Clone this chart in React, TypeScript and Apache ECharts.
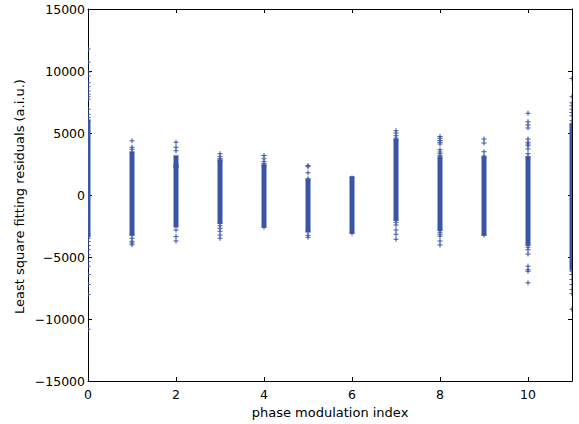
import React, { useEffect, useRef } from "react";
import * as echarts from "echarts";

// Dense bands of residuals per column: [column, low, high]
const bandColumns = [0, 1, 2, 2, 3, 4, 5, 6, 7, 8, 9, 10, 11];
const bandLows = [-3200, -3080, -2420, 2380, -2120, -2420, -2820, -2920, -1880, -2680, -3080, -3880, -5880];
const bandHighs = [5900, 3300, 2280, 3000, 2680, 2280, 1080, 1320, 4300, 2920, 2920, 2920, 5590];

// Individual (sparse) residual points per column
const points0 = [11770, 10730, 9930, 9590, 9050, 8730, 8390, 8120, 7930, 7720, 6920, 6520, 6250, 5990,
  -3210, -3480, -3750, -4070, -4410, -4810, -5350, -5750, -6410, -7210, -8010, -10810];
const points1 = [4380, 3860, 3700, 3480, -3200, -3480, -3720, -3860, -4000];
const points2 = [4260, 3860, 3580, -2820, -3340, -3700];
const points3 = [3320, 3080, 2920, 2760, -2280, -2480, -2680, -2920, -3220, -3480];
const points4 = [3190, 2920, 2680, 2520, 2360, -2600];
const points5 = [2390, 2280, 1800, 1320, 1200, -2920, -3240, -3400];
const points6 = [1370, -3080];
const points7 = [5190, 5000, 4780, 4580, 4450, -2010, -2200, -2420, -2820, -3160, -3560];
const points8 = [4730, 4570, 4400, 4250, 4120, 3660, 3480, 3320, 3160, -2840, -3000, -3160, -3320, -3700, -4020];
const points9 = [4520, 4200, 3500, 3140, 3000, -3220];
const points10 = [6600, 5900, 5640, 5400, 4520, 4260, 4120, 3980, 3720, 3320, 3060,
  -4020, -4200, -4420, -4760, -5740, -6020, -6140, -7080];
const points11 = [9400, 7930, 7450, 7190, 6920, 6650, 6390, 5990, 5720,
  -6150, -6410, -6810, -7210, -7610, -7960, -9210];

const pointColumns = [points0, points1, points2, points3, points4, points5, points6, points7, points8, points9, points10, points11];

const xTitle = "phase modulation index";
const yTitle = "Least square fitting residuals (a.i.u.)";

const COLOR = "#3a54a6";
const FONT = "DejaVu Sans";
const PLUS = "path://M4,0h2v4h4v2h-4v4h-2v-4h-4v-2h4z";
const PLUS_RIGHT_HALF = "path://M0,0h1v4h4v2h-4v4h-1z";
const PLUS_LEFT_HALF = "path://M4,0h1v10h-1v-4h-4v-2h4z";

export default function App() {
  const ref = useRef<HTMLDivElement>(null);
  useEffect(() => {
    document.body.style.margin = "0";
    const chart = echarts.init(ref.current!, null, { renderer: "svg" });
    const bandData = bandColumns.map((c, i) => [c, bandLows[i], bandHighs[i]]);
    const lastCol = pointColumns.length - 1;
    const scatterData: any[] = [];
    pointColumns.forEach((arr, c) =>
      arr.forEach((v) => {
        if (c === 0) {
          scatterData.push({ value: [c, v], symbol: PLUS_RIGHT_HALF, symbolSize: [2.5, 5], symbolOffset: [1.25, 0] });
        } else if (c === lastCol) {
          scatterData.push({ value: [c, v], symbol: PLUS_LEFT_HALF, symbolSize: [2.5, 5], symbolOffset: [-1.25, 0] });
        } else {
          scatterData.push({ value: [c, v] });
        }
      })
    );
    const fmt = (v: number) => String(v).replace("-", "\u2212");
    const tickCommon = { show: true, inside: true, length: 4, lineStyle: { color: "#000", width: 1 } };
    const lineCommon = { show: true, onZero: false, lineStyle: { color: "#000", width: 1 } };
    chart.setOption({
      animation: false,
      grid: { left: 88, top: 9, width: 484, height: 375, containLabel: false },
      xAxis: [
        {
          type: "value", min: 0, max: 11, interval: 2, position: "bottom",
          axisLine: lineCommon, axisTick: tickCommon, splitLine: { show: false },
          axisLabel: { color: "#000", fontFamily: FONT, fontSize: 12.5, margin: 7, showMaxLabel: false },
          name: xTitle, nameLocation: "middle", nameGap: 19,
          nameTextStyle: { color: "#000", fontFamily: FONT, fontSize: 13, verticalAlign: "top" },
        },
        {
          type: "value", min: 0, max: 11, interval: 2, position: "top",
          axisLine: lineCommon, axisTick: tickCommon, splitLine: { show: false },
          axisLabel: { show: false },
        },
      ],
      yAxis: [
        {
          type: "value", min: -15000, max: 15000, interval: 5000, position: "left",
          axisLine: lineCommon, axisTick: tickCommon, splitLine: { show: false },
          axisLabel: { color: "#000", fontFamily: FONT, fontSize: 12.5, margin: 3, formatter: fmt },
        },
        {
          type: "value", min: -15000, max: 15000, interval: 5000, position: "right",
          axisLine: lineCommon, axisTick: tickCommon, splitLine: { show: false },
          axisLabel: { show: false },
        },
      ],
      graphic: [
        {
          type: "text", x: 19, y: 196.5, rotation: Math.PI / 2,
          style: {
            text: yTitle, fill: "#000", font: `13px "${FONT}"`,
            textAlign: "center", textVerticalAlign: "middle",
          },
        },
      ],
      series: [
        {
          type: "custom",
          data: bandData,
          encode: { x: 0, y: [1, 2] },
          z: 1,
          renderItem: (params: any, api: any) => {
            const x = api.value(0);
            const lo = api.coord([x, api.value(1)]);
            const hi = api.coord([x, api.value(2)]);
            const cs = params.coordSys;
            const x0 = Math.max(hi[0] - 2.5, cs.x);
            const x1 = Math.min(hi[0] + 2.5, cs.x + cs.width);
            return {
              type: "rect",
              shape: { x: x0, y: hi[1] - 2.5, width: x1 - x0, height: lo[1] - hi[1] + 5 },
              style: { fill: COLOR },
            };
          },
        },
        {
          type: "scatter",
          data: scatterData,
          symbol: PLUS,
          symbolSize: 5,
          z: 2,
          itemStyle: { color: COLOR, opacity: 1 },
        },
      ],
    });
    return () => chart.dispose();
  }, []);
  return <div ref={ref} style={{ width: 579, height: 424 }} />;
}
